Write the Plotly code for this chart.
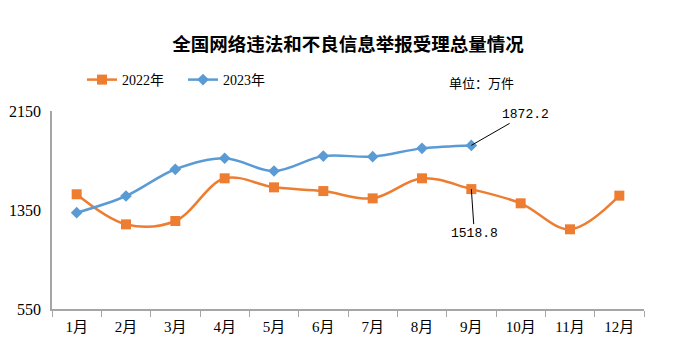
import plotly.graph_objects as go

months = ["1月", "2月", "3月", "4月", "5月", "6月", "7月", "8月", "9月", "10月", "11月", "12月"]
v2022 = [1477, 1234, 1261, 1606, 1533, 1503, 1444, 1606, 1518.8, 1404, 1194, 1466]
v2023 = [1328, 1463, 1679, 1768, 1665, 1786, 1781, 1848, 1872.2]
y_ticks = [550, 1350, 2150]

serif = "Liberation Serif, Times New Roman, Noto Sans CJK SC, serif"
cjk = "Noto Sans CJK SC, sans-serif"
mono = "Liberation Mono, DejaVu Sans Mono, monospace"

fig = go.Figure()
fig.add_trace(go.Scatter(
    x=months, y=v2022, name="2022年", mode="lines+markers",
    line=dict(color="#ED7D31", width=2.5, shape="spline", smoothing=1),
    marker=dict(symbol="square", size=10, color="#ED7D31"),
))
fig.add_trace(go.Scatter(
    x=months[:len(v2023)], y=v2023, name="2023年", mode="lines+markers",
    line=dict(color="#5B9BD5", width=2.5, shape="spline", smoothing=1),
    marker=dict(symbol="diamond", size=9, color="#5B9BD5"),
))

fig.add_annotation(x="9月", y=v2023[8], text=f"{v2023[8]}", showarrow=True,
                   arrowhead=0, arrowwidth=1, arrowcolor="#000000",
                   ax=54, ay=-31, font=dict(family=mono, size=13, color="#000"))
fig.add_annotation(x="9月", y=v2022[8], text=f"{v2022[8]}", showarrow=True,
                   arrowhead=0, arrowwidth=1, arrowcolor="#000000",
                   ax=3, ay=44, font=dict(family=mono, size=13, color="#000"))
fig.add_annotation(xref="paper", yref="paper", x=(481 - 52) / 592, y=(309 - 82) / 198,
                   xanchor="center", yanchor="middle",
                   text="单位：万件", showarrow=False,
                   font=dict(family=cjk, size=13, color="#000"))

fig.update_layout(
    width=692, height=363,
    margin=dict(l=52, r=48, t=111, b=54, autoexpand=False),
    paper_bgcolor="white", plot_bgcolor="white",
    title=dict(text="<b>全国网络违法和不良信息举报受理总量情况</b>",
               x=348 / 692, xanchor="center", y=1 - 45 / 363, yanchor="middle",
               font=dict(family=cjk, size=18.5, color="#000")),
    legend=dict(orientation="h", x=(82 - 52) / 592, xanchor="left",
                y=(309 - 80) / 198, yanchor="middle", entrywidth=56,
                font=dict(family=serif, size=14, color="#000"),
                bgcolor="rgba(0,0,0,0)"),
    xaxis=dict(range=[-0.5, 11.5], showline=True, linecolor="#A6A6A6", linewidth=1.5,
               ticks="outside", tickson="boundaries", ticklen=6, tickcolor="#A6A6A6",
               showgrid=False, zeroline=False, automargin=False, ticklabelstandoff=3,
               tickfont=dict(family=serif, size=15, color="#000")),
    yaxis=dict(range=[550, 2150], tickvals=y_ticks, showline=True,
               linecolor="#A6A6A6", linewidth=1.5, ticks="", showgrid=False,
               zeroline=False, automargin=False, ticklabelstandoff=6,
               tickfont=dict(family=serif, size=16, color="#000")),
    showlegend=True,
)

fig.write_html("out.html", config={"displayModeBar": False},
               post_script="document.body.style.margin='0';")
